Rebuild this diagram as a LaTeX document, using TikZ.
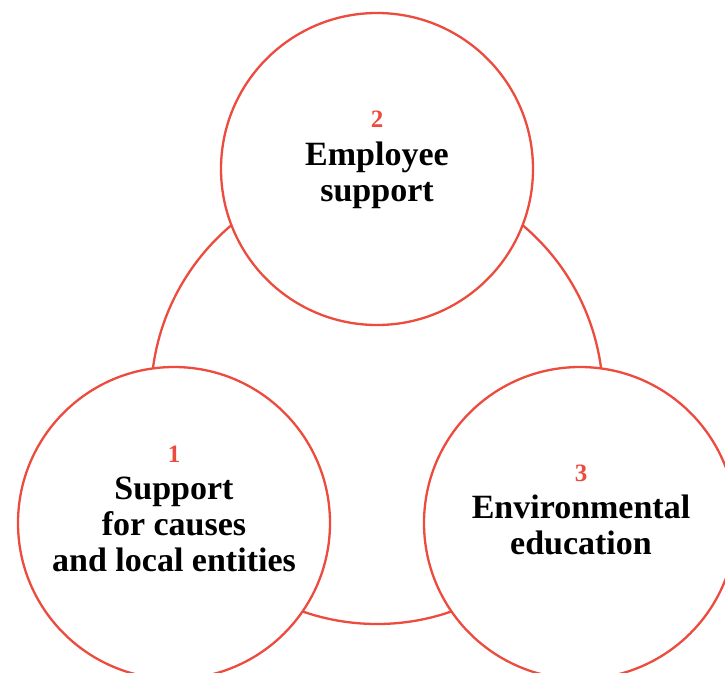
\documentclass[tikz,border=0pt]{standalone}
\usepackage{fontspec}
\setmainfont{Liberation Serif}
\usepackage{xcolor}
\usepackage{tikz}
\usetikzlibrary{positioning}
\definecolor{ringred}{RGB}{236,75,62}

\begin{document}
\begin{tikzpicture}[
    x=1pt, y=-1pt,
    ring/.style={draw=ringred, line width=2.3pt, circle, inner sep=0pt},
    bubble/.style={ring, fill=white, minimum size=312pt},
    num/.style={text=ringred, font=\bfseries\fontsize{25}{30}\selectfont, inner sep=0pt, anchor=base},
    title/.style={align=center, font=\bfseries\fontsize{34}{36}\selectfont, inner sep=0pt},
]
\useasboundingbox (0,0) rectangle (725,672);
\clip (0,0) rectangle (725,672);

% --- Outer ring ---
\node[ring, minimum size=452pt] (hub) at (377,398) {};

% --- Bubbles ---
\node[bubble] (employee) at (377,169) {};
\node[bubble] (causes) at (174,523) {};
\node[bubble] (enviro) at (580,523) {};

% --- Labels ---
\node[num] (num2) at (377,127) {2};
\node[title, below=15pt of num2] (txt2) {Employee\\support};

\node[num] (num1) at (174,462) {1};
\node[title, below=15pt of num1] (txt1) {Support\\for causes\\and local entities};

\node[num] (num3) at (581,481) {3};
\node[title, below=13pt of num3] (txt3) {Environmental\\education};

\end{tikzpicture}
\end{document}
